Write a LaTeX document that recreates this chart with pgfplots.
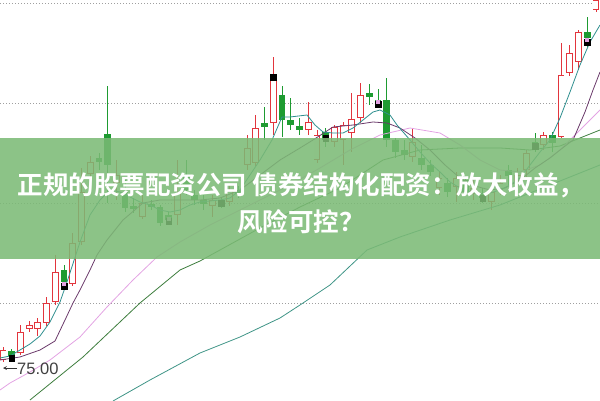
\documentclass[border=0pt]{standalone}
\usepackage{pgfplots}
\usepackage{pgfplotstable}
\pgfplotsset{compat=1.18}
\usepackage{fontspec}
\setmainfont{Liberation Sans}
\newfontfamily\cjk{Noto Sans CJK SC}[BoldFont={Noto Sans CJK SC Bold}]

\definecolor{upred}{HTML}{E2353D}
\definecolor{dngreen}{HTML}{1E9B31}
\definecolor{mafive}{HTML}{2F8F8F}
\definecolor{maten}{HTML}{6B3B6B}
\definecolor{matwenty}{HTML}{E3A3E3}
\definecolor{mathirty}{HTML}{3D7D3D}
\definecolor{mahundred}{HTML}{3E9486}
\definecolor{banner}{RGB}{123,186,117}

% i = candle index, t/b = body top/bottom, h/l = high/low (pixel rows)
\pgfplotstableread{
i t b h l
0 350 360 347 362
2 332 353 325 355
3 325 329 321 332
4 322 329 318 336
5 303 323 297 326
6 272 302 255 305
8 243 284 233 286
9 192 242 168 245
10 162 174 156 180
13 175 183 160 200
16 203 217 195 219
20 193 215 160 225
24 200 206 195 217
26 190 202 185 206
28 148 165 135 170
29 128 163 115 166
31 77 123 57 135
35 122 130 102 135
36 135 160 130 163
38 127 142 125 147
39 125 140 122 165
40 119 133 93 152
41 95 118 83 123
47 142 157 128 162
50 178 188 172 195
52 178 187 172 202
54 188 194 180 200
56 192 202 183 210
57 183 190 175 195
59 175 182 168 188
60 153 170 150 177
62 135 145 132 150
64 75 137 43 138
65 53 73 45 76
66 32 62 30 70
68 0 10 -2 12
}\up

\pgfplotstableread{
i t b h l
1 351 356 349 360
7 270 282 265 286
11 158 162 153 170
12 134 165 86 203
14 192 208 180 212
15 206 209 198 213
17 204 207 200 210
18 207 223 205 226
19 215 220 212 224
21 175 190 160 195
22 195 200 190 205
23 200 204 195 210
25 200 203 197 208
27 190 194 186 198
30 123 127 107 140
32 95 120 86 137
33 120 125 98 130
34 126 130 118 135
37 132 140 128 147
42 93 97 84 105
43 100 104 89 107
44 100 140 78 147
45 140 152 138 158
46 150 155 140 160
48 158 165 145 170
49 165 172 160 176
51 183 192 178 197
53 180 192 176 195
55 193 198 188 203
58 170 176 165 185
61 142 146 133 152
63 135 143 132 152
67 32 38 17 47
}\down

\begin{document}
\begin{tikzpicture}
\begin{axis}[name=ax,
  scale only axis, width=600pt, height=401pt,
  xmin=0, xmax=600, ymin=0, ymax=401, y dir=reverse,
  axis line style={draw=none}, tick style={draw=none},
  xtick=\empty, ytick={3,103,203,303}, yticklabels={},
  ymajorgrids, grid style={gray!75, line width=0.9pt, dash pattern=on 1.2pt off 1.8pt},
  candle/.style={draw=none, mark=none, forget plot, error bars/.cd, y dir=both, y explicit, error mark=none},
]
% wicks
\addplot[candle, error bar style={draw=upred, line width=0.8pt}]
  table[x expr=3+8.72*\thisrow{i}, y expr=(\thisrow{h}+\thisrow{l})/2, y error expr=(\thisrow{l}-\thisrow{h})/2] {\up};
\addplot[candle, error bar style={draw=dngreen, line width=0.8pt}]
  table[x expr=3+8.72*\thisrow{i}, y expr=(\thisrow{h}+\thisrow{l})/2, y error expr=(\thisrow{l}-\thisrow{h})/2] {\down};
% bodies
\addplot[candle, error bar style={draw=upred, line width=6.8pt}]
  table[x expr=3+8.72*\thisrow{i}, y expr=(\thisrow{t}+\thisrow{b})/2, y error expr=(\thisrow{b}-\thisrow{t})/2] {\up};
\addplot[candle, error bar style={draw=white, line width=5pt}]
  table[x expr=3+8.72*\thisrow{i}, y expr=(\thisrow{t}+\thisrow{b})/2, y error expr=(\thisrow{b}-\thisrow{t})/2-0.9] {\up};
\addplot[candle, error bar style={draw=dngreen, line width=6.8pt}]
  table[x expr=3+8.72*\thisrow{i}, y expr=(\thisrow{t}+\thisrow{b})/2, y error expr=(\thisrow{b}-\thisrow{t})/2] {\down};
% markers
\addplot[only marks, mark=square*, mark size=2.8pt, mark options={fill=black, draw=black}]
  coordinates {(11.7,358) (64,286) (168.7,221) (221,203) (273,77) (325.6,138) (378,104) (482.6,198) (535,146) (587,42)};
\addplot[only marks, mark=square*, mark size=1.6pt, mark options={fill=matwenty, draw=matwenty}]
  coordinates {(64,284) (378,102) (587,40) (168.7,219)};
% moving averages
\addplot[mahundred, line width=0.8pt] coordinates {(113,401) (150,380) (200,353) (240,337) (280,318) (300,305) (330,285) (367,250) (400,237) (450,220) (500,205) (550,185) (600,165)};
\addplot[mathirty, line width=0.8pt] coordinates {(30,400) (83,357) (140,303) (180,270) (200,261) (220,250) (260,228) (300,207) (340,188) (383,160) (420,150) (460,148) (500,148) (530,150) (560,146) (600,130)};
\addplot[matwenty, line width=0.8pt] coordinates {(0,390) (10,383) (30,372) (50,360) (80,337) (107,307) (133,280) (157,257) (180,242) (210,225) (250,205) (290,185) (320,168) (350,150) (380,135) (410,128) (440,133) (460,145) (480,160) (500,170) (520,172) (540,165) (560,150) (580,130) (600,110)};
\addplot[maten, line width=0.8pt] coordinates {(0,360) (20,357) (40,350) (55,341) (65,320) (73,303) (80,290) (90,270) (97,255) (107,240) (123,220) (143,203) (160,200) (180,200) (200,200) (220,198) (240,190) (260,175) (280,160) (300,148) (313,140) (333,127) (353,125) (373,122) (387,123) (400,128) (415,138) (430,150) (445,165) (460,178) (475,186) (490,190) (505,188) (520,180) (535,168) (550,158) (560,150) (573,140) (585,112) (593,90) (600,72)};
\addplot[mafive, line width=0.8pt] coordinates {(0,358) (10,356) (20,350) (30,344) (40,336) (50,322) (60,302) (67,282) (80,242) (90,215) (100,200) (110,190) (120,192) (130,197) (140,202) (150,205) (160,210) (170,212) (180,210) (190,205) (200,202) (210,201) (220,200) (230,198) (240,190) (250,175) (260,160) (272,140) (282,117) (290,117) (307,115) (315,125) (323,132) (333,133) (343,133) (353,128) (363,120) (373,112) (380,110) (390,115) (397,125) (410,140) (420,152) (430,163) (440,172) (450,182) (460,188) (470,192) (480,194) (490,193) (500,190) (510,185) (520,178) (530,165) (540,152) (550,140) (560,118) (570,92) (580,65) (590,42) (600,25)};
\draw[black!80, line width=0.7pt, -stealth] (axis cs:17,368) -- (axis cs:3,368);
\node[anchor=west, inner sep=0pt, text=black!75, font=\fontsize{16.5}{19}\selectfont] at (axis cs:17,368.5) {75.00};
\coordinate (bTL) at (axis cs:0,138);
\coordinate (bBR) at (axis cs:600,259);
\coordinate (l1) at (axis cs:301,185);
\coordinate (l2) at (axis cs:301,222);
\end{axis}
\fill[banner, fill opacity=0.87] (bTL) rectangle (bBR);
\node[text=white, inner sep=0pt, font=\cjk\bfseries\fontsize{25.5}{30}\selectfont] at (l1) {正规的股票配资公司 债券结构化配资：放大收益，};
\node[text=white, inner sep=0pt, font=\cjk\bfseries\fontsize{25.5}{30}\selectfont] at (l2) {风险可控？};
\pgfresetboundingbox
\path[use as bounding box] (ax.south west) rectangle (ax.north east);
\end{tikzpicture}
\end{document}
